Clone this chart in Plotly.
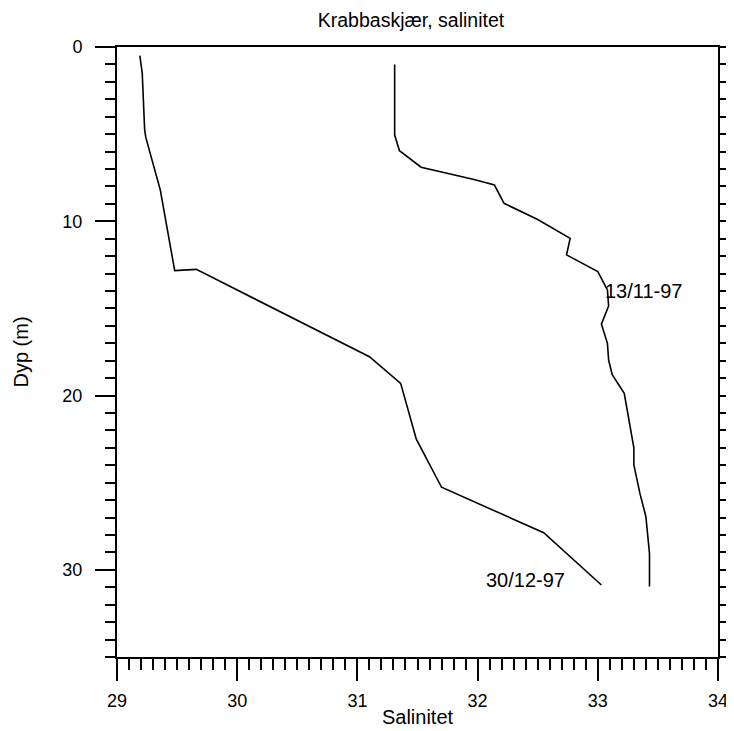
import plotly.graph_objects as go

# 13/11-97 profile
sal_nov = [31.31, 31.31, 31.35, 31.53, 31.97, 32.14, 32.22, 32.50, 32.77, 32.74, 33.00, 33.08, 33.09, 33.03, 33.08, 33.09, 33.12, 33.22, 33.30, 33.30, 33.35, 33.40, 33.43, 33.43]
dep_nov = [1.0, 5.05, 5.95, 6.9, 7.6, 7.92, 8.97, 9.9, 10.98, 11.93, 12.89, 13.94, 14.86, 15.9, 17.0, 17.96, 18.8, 19.87, 23.0, 23.98, 25.6, 26.95, 29.05, 30.96]

# 30/12-97 profile
sal_dec = [29.19, 29.21, 29.23, 29.24, 29.36, 29.48, 29.66, 31.10, 31.36, 31.49, 31.70, 32.55, 33.03]
dep_dec = [0.5, 1.5, 4.76, 5.2, 8.2, 12.83, 12.76, 17.77, 19.3, 22.5, 25.26, 27.87, 30.87]

labels = ["13/11-97", "30/12-97"]
label_x = [33.38, 32.40]
label_y = [14.0, 30.58]

FONT = "Liberation Sans, Arial, sans-serif"

fig = go.Figure()
fig.add_trace(go.Scatter(x=sal_nov, y=dep_nov, mode="lines",
                         line=dict(color="black", width=1.6), showlegend=False))
fig.add_trace(go.Scatter(x=sal_dec, y=dep_dec, mode="lines",
                         line=dict(color="black", width=1.6), showlegend=False))
fig.add_trace(go.Scatter(x=[], y=[], yaxis="y2", showlegend=False))

for t, lx, ly in zip(labels, label_x, label_y):
    fig.add_annotation(x=lx, y=ly, text=t, showarrow=False,
                       font=dict(size=20, color="black", family=FONT))

fig.update_layout(
    width=734, height=731,
    margin=dict(l=102, r=24, t=39, b=82),
    paper_bgcolor="white", plot_bgcolor="white",
    font=dict(family=FONT, color="black", size=18),
    title=dict(text="Krabbaskjær, salinitet", x=0.549, xanchor="center",
               y=1 - 12 / 731, yanchor="middle", font=dict(size=19.5, family=FONT)),
    xaxis=dict(range=[29, 34], showgrid=False, zeroline=False,
               showline=True, linecolor="black", linewidth=2, mirror=True,
               ticks="outside", ticklen=22, tickwidth=1.5, tickcolor="black",
               dtick=1, tick0=29, tickfont=dict(size=18), ticklabelstandoff=4,
               minor=dict(dtick=0.1, ticks="outside", ticklen=11, tickwidth=1.5, tickcolor="black"),
               title=dict(text="Salinitet", font=dict(size=20), standoff=0)),
    yaxis=dict(range=[35, 0], showgrid=False, zeroline=False,
               showline=True, linecolor="black", linewidth=2, mirror=True,
               ticks="outside", ticklen=20, tickwidth=1.5, tickcolor="black",
               dtick=10, tick0=0, tickfont=dict(size=18), ticklabelstandoff=9,
               minor=dict(dtick=1, ticks="outside", ticklen=10, tickwidth=1.5, tickcolor="black"),
               title=dict(text="Dyp (m)", font=dict(size=20), standoff=28)),
    yaxis2=dict(range=[35, 0], overlaying="y", side="right", showgrid=False,
                zeroline=False, showline=False, showticklabels=False,
                ticks="outside", ticklen=10, tickwidth=1.5, tickcolor="black",
                dtick=1, tick0=0),
)

fig.write_html("out.html")
